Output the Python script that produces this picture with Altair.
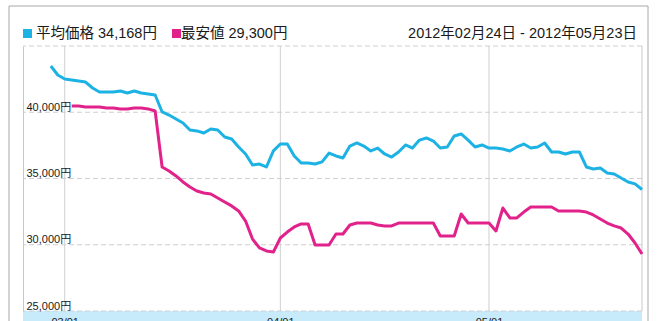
import altair as alt
import pandas as pd

# ---------------- data ----------------
dates = pd.date_range("2012-02-28", "2012-05-23", freq="D").strftime("%Y-%m-%d").tolist()

avg_price = [43490, 42810, 42510, 42430, 42360, 42280, 41830, 41530, 41530, 41530,
             41600, 41450, 41600, 41450, 41380, 41300, 40020, 39790, 39490, 39190,
             38660, 38590, 38430, 38740, 38660, 38130, 37980, 37380, 36850, 36020,
             36090, 35870, 37080, 37600, 37600, 36700, 36170, 36170, 36090, 36250,
             36920, 36700, 36550, 37450, 37680, 37450, 37080, 37300, 36850, 36620,
             37000, 37530, 37300, 37900, 38060, 37830, 37300, 37380, 38210, 38360,
             37900, 37380, 37530, 37300, 37300, 37230, 37080, 37380, 37600, 37300,
             37380, 37680, 37000, 37000, 36850, 37000, 37000, 35870, 35720, 35790,
             35420, 35340, 35040, 34740, 34590, 34168]

min_dates = dates[3:]
min_price = [40470, 40470, 40400, 40400, 40400, 40320, 40320, 40250, 40250,
             40320, 40320, 40250, 40090, 35870, 35570, 35190, 34740, 34360, 34060,
             33910, 33830, 33530, 33230, 32930, 32550, 31790, 30430, 29760, 29530,
             29450, 30510, 30960, 31340, 31570, 31570, 29980, 29980, 29980, 30810,
             30810, 31490, 31640, 31640, 31640, 31490, 31420, 31420, 31640, 31640,
             31640, 31640, 31640, 31640, 30660, 30660, 30660, 32320, 31640, 31640,
             31640, 31640, 31040, 32770, 32020, 32020, 32470, 32850, 32850, 32850,
             32850, 32550, 32550, 32550, 32550, 32470, 32250, 31940, 31640, 31420,
             31260, 30810, 30130, 29300]

series_names = ["平均価格", "最安値"]
month_ticks = ["2012-03-01", "2012-04-01", "2012-05-01"]
grid_values = [25000, 30000, 35000, 40000, 45000]
label_values = [25000, 30000, 35000, 40000]

legend_avg = "平均価格 34,168円"
legend_min = "最安値 29,300円"
period_text = "2012年02月24日 - 2012年05月23日"

# ---------------- styling ----------------
W, H = 619, 265
FONT = "Liberation Sans, Arial, 'Noto Sans CJK JP', sans-serif"
BLUE = "#1db2e4"
PINK = "#e2228b"
GRID = "#cfcfcf"
TEXT = "#1a1a1a"

lines_df = pd.concat([
    pd.DataFrame({"date": dates, "price": avg_price, "series": series_names[0]}),
    pd.DataFrame({"date": min_dates, "price": min_price, "series": series_names[1]}),
])
months_df = pd.DataFrame({"date": month_ticks})
grid_df = pd.DataFrame({"price": grid_values})
one = pd.DataFrame({"k": [0]})

x_scale = alt.Scale(type="utc", domain=[
    alt.DateTime(year=2012, month=2, date=24, utc=True),
    alt.DateTime(year=2012, month=5, date=23, utc=True)])
y_scale = alt.Scale(domain=[25000, 45000], nice=False, zero=False)

x_axis = alt.Axis(values=[alt.DateTime(year=2012, month=m, date=1, utc=True) for m in (3, 4, 5)],
                  format="%m/%d", grid=False, domain=False, ticks=False,
                  labelPadding=5, labelBaseline="top", labelFontSize=11,
                  labelFont=FONT, labelColor=TEXT, zindex=1, title=None)
y_axis = alt.Axis(values=label_values, labelExpr="format(datum.value, ',') + '円'",
                  labelAlign="left", labelBaseline="alphabetic", labelPadding=-3,
                  labelOffset=-2, ticks=False, tickSize=0, grid=False,
                  domain=True, domainColor="#c8c8c8", labelFontSize=11,
                  labelFont=FONT, labelColor=TEXT, zindex=1, title=None)

X = alt.X("date:T", scale=x_scale, axis=x_axis)
Y = alt.Y("price:Q", scale=y_scale, axis=y_axis)

band = alt.Chart(one).mark_rect(color="#c7ebfa").encode(
    x=alt.value(0), x2=alt.value(W), y=alt.value(H), y2=alt.value(H + 30))

vgrid = alt.Chart(months_df).mark_rule(color=GRID, strokeWidth=1).encode(x=X)

hgrid = alt.Chart(grid_df).mark_rule(color=GRID, strokeWidth=1, strokeDash=[5, 3]).encode(y=Y)

right_border = alt.Chart(one).mark_rule(color="#c8c8c8", strokeWidth=1).encode(
    x=alt.value(W), y=alt.value(0), y2=alt.value(H))

lines = alt.Chart(lines_df).mark_line(strokeWidth=3, strokeJoin="round").encode(
    x=X, y=Y,
    color=alt.Color("series:N", scale=alt.Scale(domain=series_names, range=[BLUE, PINK]), legend=None),
)

frame = alt.Chart(one).mark_rect(filled=False, color="#a8a8a8", strokeWidth=1).encode(
    x=alt.value(-14), x2=alt.value(625), y=alt.value(-40), y2=alt.value(320))

sq_avg = alt.Chart(one).mark_rect(color=BLUE).encode(
    x=alt.value(0), x2=alt.value(9), y=alt.value(-17), y2=alt.value(-8))
sq_min = alt.Chart(one).mark_rect(color=PINK).encode(
    x=alt.value(149), x2=alt.value(158), y=alt.value(-17), y2=alt.value(-8))

txt_style = dict(align="left", baseline="alphabetic", fontSize=14.5, font=FONT, color=TEXT)
t_avg = alt.Chart(one).mark_text(**txt_style).encode(
    x=alt.value(13), y=alt.value(-8), text=alt.value(legend_avg))
t_min = alt.Chart(one).mark_text(**txt_style).encode(
    x=alt.value(158), y=alt.value(-8), text=alt.value(legend_min))
t_period = alt.Chart(one).mark_text(align="right", baseline="alphabetic", fontSize=14.5,
                                    font=FONT, color=TEXT).encode(
    x=alt.value(614), y=alt.value(-8), text=alt.value(period_text))

chart = alt.layer(
    band, vgrid, hgrid, right_border, lines, frame, sq_avg, sq_min, t_avg, t_min, t_period
).properties(
    width=W, height=H,
    autosize=alt.AutoSizeParams(type="none"),
    padding={"left": 23, "top": 46, "right": 17, "bottom": 10},
    background="white",
).configure_view(stroke="transparent")

chart.save("out.html", embed_options={"renderer": "svg", "actions": False})
